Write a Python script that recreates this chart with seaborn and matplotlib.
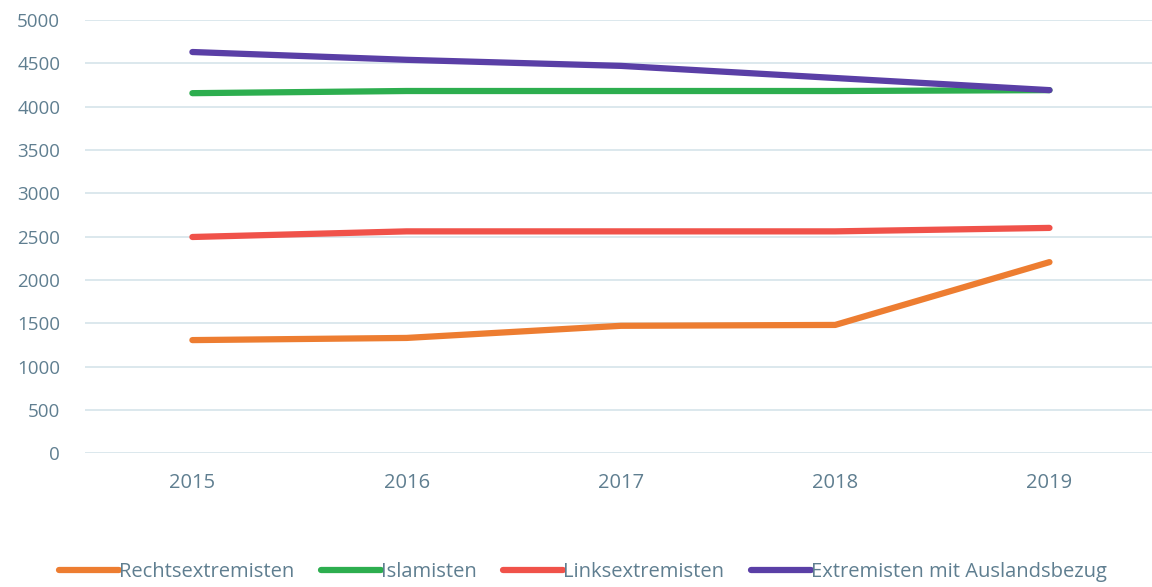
import matplotlib
matplotlib.use("Agg")
import matplotlib.pyplot as plt
import seaborn as sns
import pandas as pd

years = [2015, 2016, 2017, 2018, 2019]
rechts = [1305, 1330, 1470, 1480, 2205]
islam = [4155, 4180, 4180, 4180, 4190]
links = [2495, 2560, 2560, 2560, 2600]
ausland = [4630, 4540, 4470, 4330, 4190]
series_names = ["Rechtsextremisten", "Islamisten", "Linksextremisten", "Extremisten mit Auslandsbezug"]
colors = ["#ED7D31", "#2DAE4F", "#F0524A", "#5A3FA6"]

rows = []
for name, vals in zip(series_names, [rechts, islam, links, ausland]):
    for i, (y, v) in enumerate(zip(years, vals)):
        rows.append({"pos": i, "Jahr": str(y), "Wert": v, "Serie": name})
df = pd.DataFrame(rows)

sns.set_theme(style="white")
plt.rcParams["font.family"] = ["Open Sans", "DejaVu Sans"]

fig = plt.figure(figsize=(11.52, 5.87), dpi=100)
ax = fig.add_axes([0.074, 0.228, 0.93, 0.738])

sns.lineplot(data=df, x="pos", y="Wert", hue="Serie", palette=colors,
             hue_order=series_names, linewidth=4.5, ax=ax, legend=True)

tick_color = "#5F7E90"
ax.set_xlim(-0.5, 4.5)
ax.set_ylim(0, 5000)
ax.set_xticks(range(len(years)))
ax.set_xticklabels([str(y) for y in years])
ax.set_yticks(range(0, 5001, 500))
ax.yaxis.grid(True, color="#D9E6EC", linewidth=1.3)
ax.xaxis.grid(False)
for s in ax.spines.values():
    s.set_visible(False)
ax.tick_params(axis="y", colors=tick_color, labelsize=13.5, length=0, pad=18)
ax.tick_params(axis="x", colors=tick_color, labelsize=14.5, length=0, pad=14)
ax.set_xlabel("")
ax.set_ylabel("")

handles, labels = ax.get_legend_handles_labels()
ax.get_legend().remove()
fig.legend(handles, labels, loc="center", bbox_to_anchor=(0.506, 0.026), ncol=4,
           frameon=False, fontsize=14.5, handlelength=3.0, handletextpad=0.0,
           columnspacing=1.3, labelcolor=tick_color)

fig.savefig("out.png", dpi=100, facecolor="white")
